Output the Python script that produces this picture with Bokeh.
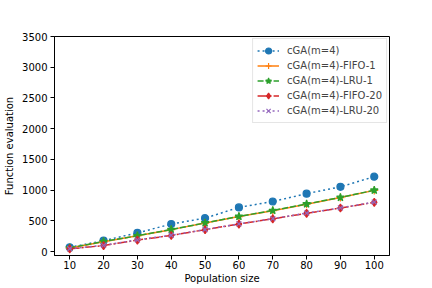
from bokeh.plotting import figure
from bokeh.models import Range1d, FixedTicker, Legend, LegendItem
from bokeh.embed import file_html
from bokeh.resources import INLINE

pop = [10, 20, 30, 40, 50, 60, 70, 80, 90, 100]
cga = [69, 176, 303, 447, 543, 718, 814, 942, 1053, 1218]
fifo1 = [58, 160, 255, 356, 463, 569, 665, 771, 878, 995]
lru1 = [60, 162, 257, 358, 465, 571, 668, 774, 880, 998]
fifo20 = [43, 96, 186, 261, 356, 447, 532, 622, 708, 800]
lru20 = [45, 100, 190, 265, 358, 449, 535, 625, 710, 805]

series = [
    ("cGA(m=4)", cga, "#1f77b4", "2 3", "circle", 7),
    ("cGA(m=4)-FIFO-1", fifo1, "#ff7f0e", "solid", "cross", 8),
    ("cGA(m=4)-LRU-1", lru1, "#2ca02c", "6 2", "star", 8),
    ("cGA(m=4)-FIFO-20", fifo20, "#d62728", "10 2 2 2", "diamond", 8),
    ("cGA(m=4)-LRU-20", lru20, "#9467bd", "2 3", "x", 7),
]

FONT = "DejaVu Sans"

p = figure(width=416, height=280, output_backend="svg", toolbar_location=None,
           x_range=Range1d(5.5, 104.5), y_range=Range1d(-65, 3500),
           frame_width=335, frame_height=219,
           min_border_left=54, min_border_right=27, min_border_top=36, min_border_bottom=25)
p.grid.visible = False
p.outline_line_color = "black"
p.outline_line_width = 1
p.background_fill_color = "white"
p.border_fill_color = "white"

items = []
for name, ys, col, dash, mk, sz in series:
    r1 = p.line(pop, ys, line_color=col, line_width=1.5, line_dash=dash)
    r2 = p.scatter(pop, ys, marker=mk, size=sz, fill_color=col, line_color=col, line_width=1.2)
    items.append(LegendItem(label=name, renderers=[r1, r2]))

for ax in (p.xaxis[0], p.yaxis[0]):
    ax.axis_line_color = "black"
    ax.major_tick_line_color = "black"
    ax.major_tick_out = 4
    ax.major_tick_in = 0
    ax.minor_tick_line_color = None
    ax.major_label_text_font = FONT
    ax.major_label_text_font_size = "10px"
    ax.major_label_text_color = "black"
    ax.axis_label_text_font = FONT
    ax.axis_label_text_font_size = "10px"
    ax.axis_label_text_font_style = "normal"
    ax.axis_label_text_color = "black"

p.xaxis.ticker = FixedTicker(ticks=pop)
p.yaxis.ticker = FixedTicker(ticks=[0, 500, 1000, 1500, 2000, 2500, 3000, 3500])
p.xaxis.axis_label = "Population size"
p.yaxis.axis_label = "Function evaluation"
p.xaxis.axis_label_standoff = 1
p.yaxis.axis_label_standoff = 4
p.yaxis.major_label_standoff = 3
p.xaxis.major_label_standoff = 1

legend = Legend(items=items, location="top_right")
legend.label_text_font = FONT
legend.label_text_font_size = "10px"
legend.label_height = 15
legend.glyph_height = 15
legend.glyph_width = 22
legend.spacing = 0
legend.padding = 4
legend.margin = 2
legend.label_standoff = 8
legend.border_line_color = "#cccccc"
legend.border_line_width = 1
legend.background_fill_alpha = 0.8
p.add_layout(legend)

open("out.html", "w").write(file_html(p, INLINE))
